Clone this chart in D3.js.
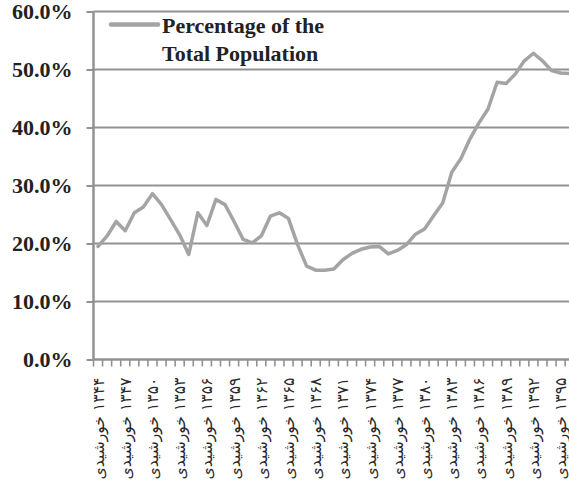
<!DOCTYPE html>
<html>
<head>
<meta charset="utf-8">
<script src="https://cdn.jsdelivr.net/npm/d3@7"></script>
<style>
  html, body { margin: 0; padding: 0; background: #fff; }
  svg { display: block; }
</style>
</head>
<body>
<div id="chart"></div>
<script>
// Categories: Iranian (solar) years, one per category
const years = [1344,1345,1346,1347,1348,1349,1350,1351,1352,1353,1354,1355,1356,1357,1358,1359,1360,1361,1362,1363,1364,1365,1366,1367,1368,1369,1370,1371,1372,1373,1374,1375,1376,1377,1378,1379,1380,1381,1382,1383,1384,1385,1386,1387,1388,1389,1390,1391,1392,1393,1394,1395,1396];
// Percentage of the total population (%)
const values = [19.5,21.3,23.8,22.2,25.3,26.3,28.6,26.7,24.1,21.5,18.1,25.3,23.1,27.6,26.7,23.8,20.7,20.1,21.3,24.7,25.3,24.3,19.8,16.1,15.4,15.4,15.6,17.2,18.3,19.0,19.4,19.5,18.2,18.8,19.8,21.6,22.5,24.8,27.0,32.3,34.6,38.0,40.8,43.2,47.8,47.6,49.2,51.5,52.8,51.5,49.8,49.4,49.3];
// Labelled categories (every third year) and their texts
const labelYears = [1344,1347,1350,1353,1356,1359,1362,1365,1368,1371,1374,1377,1380,1383,1386,1389,1392,1395];
const labelTexts = ["۱۳۴۴ خورشیدی","۱۳۴۷ خورشیدی","۱۳۵۰ خورشیدی","۱۳۵۳ خورشیدی","۱۳۵۶ خورشیدی","۱۳۵۹ خورشیدی","۱۳۶۲ خورشیدی","۱۳۶۵ خورشیدی","۱۳۶۸ خورشیدی","۱۳۷۱ خورشیدی","۱۳۷۴ خورشیدی","۱۳۷۷ خورشیدی","۱۳۸۰ خورشیدی","۱۳۸۳ خورشیدی","۱۳۸۶ خورشیدی","۱۳۸۹ خورشیدی","۱۳۹۲ خورشیدی","۱۳۹۵ خورشیدی"];
const yTicks = [0,10,20,30,40,50,60];
const legendLines = ["Percentage of the", "Total Population"];

const W = 569, H = 482;
const mLeft = 93.5, mTop = 11.5, mBottom = 359.5;
const bandW = 9.07;
const mRight = mLeft + bandW * years.length;

const svg = d3.select("#chart").append("svg")
  .attr("width", W).attr("height", H)
  .attr("viewBox", `0 0 ${W} ${H}`);

svg.append("rect").attr("width", W).attr("height", H).attr("fill", "#fff");

const x = d3.scaleBand().domain(years).range([mLeft, mRight]).padding(0);
const y = d3.scaleLinear().domain([0, 60]).range([mBottom, mTop]);

const gridColor = "#929292";
const lineColor = "#a4a4a4";
const textColor = "#222";

// Gridlines
svg.append("g").selectAll("line").data(yTicks.filter(d => d > 0)).join("line")
  .attr("x1", mLeft).attr("x2", W + 10)
  .attr("y1", d => y(d)).attr("y2", d => y(d))
  .attr("stroke", gridColor).attr("stroke-width", 2);

// Y axis
const yAxis = svg.append("g").attr("transform", `translate(${mLeft},0)`)
  .call(d3.axisLeft(y).tickValues(yTicks).tickFormat(d => d.toFixed(1) + "%").tickSize(7).tickPadding(14));
yAxis.select(".domain").attr("stroke", gridColor).attr("stroke-width", 2.5)
  .attr("d", `M0,${mTop}V${mBottom}`);
yAxis.selectAll(".tick line").attr("stroke", gridColor).attr("stroke-width", 2);
yAxis.selectAll(".tick text")
  .attr("font-family", "'Liberation Serif', 'Times New Roman', serif")
  .attr("font-weight", "bold").attr("font-size", 22)
  .attr("fill", textColor).attr("dy", "0.3em");

// X axis line and boundary ticks
const xg = svg.append("g");
xg.append("line").attr("x1", mLeft).attr("x2", W + 10)
  .attr("y1", mBottom).attr("y2", mBottom)
  .attr("stroke", gridColor).attr("stroke-width", 2.5);
xg.selectAll("line.bt").data(years.concat(["end"])).join("line").attr("class", "bt")
  .attr("x1", d => d === "end" ? mRight : x(d)).attr("x2", d => d === "end" ? mRight : x(d))
  .attr("y1", mBottom).attr("y2", mBottom + 7)
  .attr("stroke", gridColor).attr("stroke-width", 1.6);

// X labels via axis
const labelMap = new Map(labelYears.map((yr, i) => [yr, labelTexts[i]]));
const xAxis = svg.append("g").attr("transform", `translate(0,${mBottom})`)
  .call(d3.axisBottom(x).tickValues(labelYears).tickFormat(d => labelMap.get(d)).tickSize(0));
xAxis.select(".domain").remove();
xAxis.selectAll(".tick text")
  .attr("font-family", "'DejaVu Sans', 'Noto Sans', sans-serif")
  .attr("font-size", 15.6)
  .attr("fill", "#2a2a2a")
  .attr("direction", "rtl")
  .attr("text-anchor", "start")
  .attr("y", 0).attr("x", 0)
  .attr("dy", "0.35em")
  .attr("transform", "translate(0,18) rotate(-90)");

// Data line
const line = d3.line()
  .x((d, i) => x(years[i]) + x.bandwidth() / 2)
  .y(d => y(d));
svg.append("path").datum(values)
  .attr("d", line)
  .attr("fill", "none").attr("stroke", lineColor)
  .attr("stroke-width", 3.5).attr("stroke-linejoin", "round").attr("stroke-linecap", "round");

// Legend
const lg = svg.append("g");
lg.append("line").attr("x1", 111).attr("x2", 158).attr("y1", 24.5).attr("y2", 24.5)
  .attr("stroke", lineColor).attr("stroke-width", 4.5).attr("stroke-linecap", "round");
lg.selectAll("text").data(legendLines).join("text")
  .attr("x", 162).attr("y", (d, i) => 33 + i * 28)
  .attr("font-family", "'Liberation Serif', 'Times New Roman', serif")
  .attr("font-weight", "bold").attr("font-size", 22)
  .attr("fill", textColor)
  .text(d => d);
</script>
</body>
</html>
